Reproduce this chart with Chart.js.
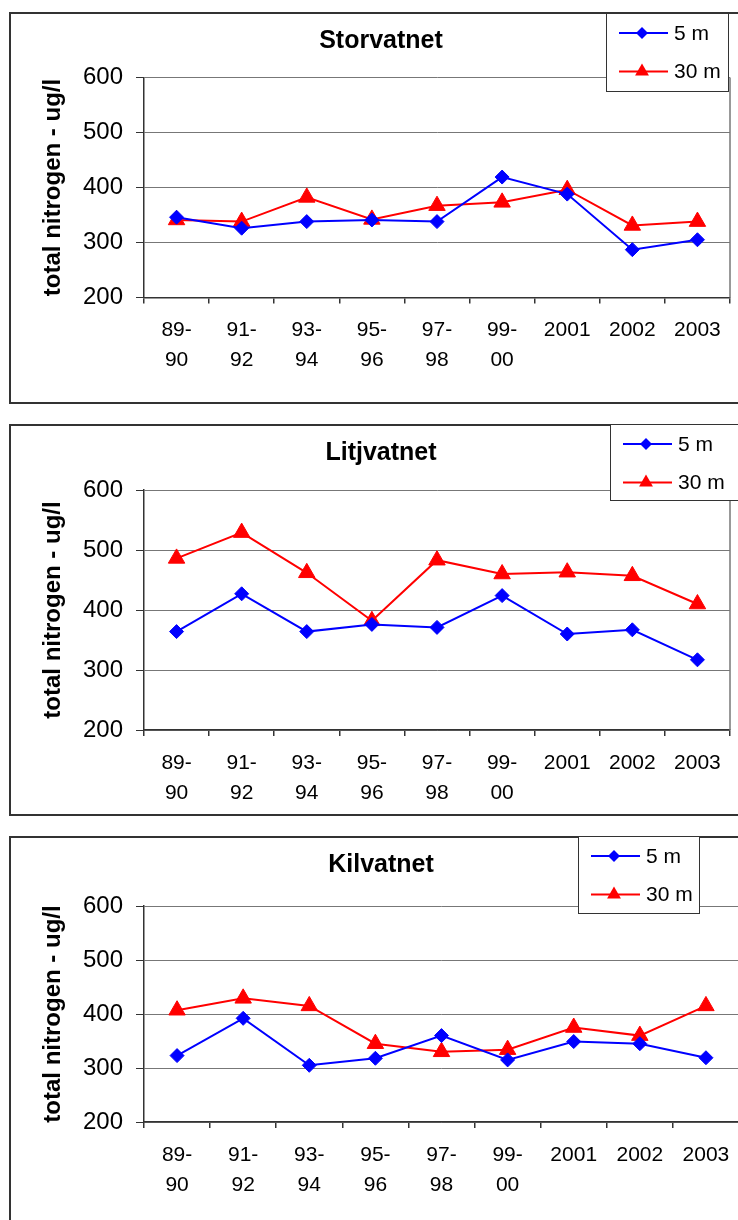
<!DOCTYPE html>
<html><head><meta charset="utf-8">
<script src="https://cdn.jsdelivr.net/npm/chart.js@4.4.0/dist/chart.umd.min.js"></script>
<style>
html,body{margin:0;padding:0;background:#fff;overflow:hidden;width:738px;height:1220px;position:relative;}
.panel{position:absolute;left:9px;width:760px;height:392px;border:2px solid #333;box-sizing:border-box;}
canvas{position:absolute;left:0;}
</style></head><body>
<div class="panel" style="top:12px"></div>
<div class="panel" style="top:424px"></div>
<div class="panel" style="top:836px"></div>
<canvas id="c0" width="760" height="400" style="top:0px"></canvas>
<canvas id="c1" width="760" height="400" style="top:412px"></canvas>
<canvas id="c2" width="760" height="400" style="top:824px"></canvas>
<script>
// ---- data ----
const categories = [['89-','90'],['91-','92'],['93-','94'],['95-','96'],['97-','98'],['99-','00'],'2001','2002','2003'];
const seriesNames = ['5 m', '30 m'];
const lakeNames = ['Storvatnet', 'Litjvatnet', 'Kilvatnet'];
const storvatnet5m  = [346, 326, 338, 341, 338, 419, 388, 287, 305];
const storvatnet30m = [341, 338, 382, 342, 367, 373, 396, 331, 338];
const litjvatnet5m  = [364, 427, 364, 376, 371, 424, 360, 367, 317];
const litjvatnet30m = [486, 529, 462, 382, 483, 460, 463, 457, 410];
const kilvatnet5m   = [323, 392, 305, 318, 360, 315, 349, 345, 319];
const kilvatnet30m  = [407, 429, 415, 345, 330, 334, 375, 360, 415];
const yTicks = [200, 300, 400, 500, 600];
const yTitle = 'total nitrogen - ug/l';

const FONT = '"Liberation Sans", Arial, Helvetica, sans-serif';
Chart.defaults.font.family = FONT;
Chart.defaults.color = '#000';

const W = 760, H = 400;

const deco = {
  id: 'deco',
  afterDraw(chart, args, o) {
    const ctx = chart.ctx;
    const a = chart.chartArea;
    ctx.save();
    // plot area right border
    ctx.strokeStyle = '#777';
    ctx.lineWidth = 1.5;
    ctx.beginPath();
    ctx.moveTo(a.right, a.top);
    ctx.lineTo(a.right, a.bottom);
    ctx.stroke();
    // title
    ctx.fillStyle = '#000';
    ctx.font = 'bold 25px ' + FONT;
    ctx.textAlign = 'center';
    ctx.textBaseline = 'middle';
    ctx.fillText(o.title, o.titleX, o.titleY);
    // legend box
    const L = o.legend;
    ctx.fillStyle = '#fff';
    ctx.fillRect(L.x, L.y, L.w, L.h);
    ctx.strokeStyle = '#333';
    ctx.lineWidth = 1;
    ctx.strokeRect(L.x + 0.5, L.y + 0.5, L.w, L.h);
    chart.data.datasets.forEach((ds, i) => {
      const cy = L.y + 20 + i * 38.5;
      const x0 = L.x + 13, x1 = L.x + 62, mx = L.x + 36;
      ctx.strokeStyle = ds.borderColor;
      ctx.lineWidth = 2;
      ctx.beginPath(); ctx.moveTo(x0, cy); ctx.lineTo(x1, cy); ctx.stroke();
      ctx.fillStyle = ds.backgroundColor;
      ctx.beginPath();
      if (ds.pointStyle === 'rectRot') {
        const r = 6;
        ctx.moveTo(mx, cy - r); ctx.lineTo(mx + r, cy); ctx.lineTo(mx, cy + r); ctx.lineTo(mx - r, cy);
      } else {
        const r = 8;
        ctx.moveTo(mx, cy - r);
        ctx.lineTo(mx + Math.sin(2*Math.PI/3) * r, cy + 0.5 * r);
        ctx.lineTo(mx - Math.sin(2*Math.PI/3) * r, cy + 0.5 * r);
      }
      ctx.closePath(); ctx.fill();
      ctx.fillStyle = '#000';
      ctx.font = '21px ' + FONT;
      ctx.textAlign = 'left';
      ctx.textBaseline = 'middle';
      ctx.fillText(ds.label, L.x + 68, cy + 1);
    });
    ctx.restore();
  }
};

function makeChart(id, title, d5, d30, cfg) {
  return new Chart(document.getElementById(id), {
    type: 'line',
    data: {
      labels: categories,
      datasets: [
        { label: seriesNames[0], data: d5, borderColor: '#0000FF', backgroundColor: '#0000FF',
          pointStyle: 'rectRot', pointRadius: 7, pointHoverRadius: 7, pointBorderWidth: 1, borderWidth: 2, tension: 0 },
        { label: seriesNames[1], data: d30, borderColor: '#FF0000', backgroundColor: '#FF0000',
          pointStyle: 'triangle', pointRadius: 9.5, pointHoverRadius: 9.5, pointBorderWidth: 1, borderWidth: 2, tension: 0 }
      ]
    },
    options: {
      responsive: false, animation: false, devicePixelRatio: 1,
      events: [],
      layout: { padding: { left: 0, top: cfg.top, right: W - cfg.right, bottom: 0 } },
      plugins: {
        legend: { display: false }, title: { display: false }, tooltip: { enabled: false },
        deco: { title: title, titleX: 381, titleY: 41, legend: cfg.legend }
      },
      scales: {
        x: {
          offset: true,
          grid: { offset: true, drawOnChartArea: false, drawTicks: true, tickLength: 6, color: '#333', lineWidth: 1.5 },
          border: { color: '#333', width: 1.5 },
          ticks: { color: '#000', font: { size: 21, lineHeight: 1.43 }, padding: 12, maxRotation: 0, minRotation: 0, autoSkip: false },
          afterFit(s) { s.height = H - cfg.bottom; }
        },
        y: {
          min: yTicks[0], max: yTicks[yTicks.length - 1],
          afterBuildTicks(s) { s.ticks = yTicks.map(v => ({ value: v })); },
          ticks: { color: '#000', font: { size: 24 }, padding: 13 },
          grid: { color: '#777', lineWidth: 1, tickLength: 8, tickColor: '#333' },
          border: { color: '#333', width: 1.5 },
          title: { display: true, text: yTitle, color: '#000', font: { size: 24, weight: 'bold' }, padding: { top: 39, bottom: 0 } },
          afterFit(s) { s.width = 144; }
        }
      }
    },
    plugins: [deco]
  });
}

makeChart('c0', lakeNames[0], storvatnet5m, storvatnet30m,
  { top: 77.5, bottom: 297.5, right: 730, legend: { x: 606, y: 13, w: 122, h: 78 } });
makeChart('c1', lakeNames[1], litjvatnet5m, litjvatnet30m,
  { top: 78, bottom: 318, right: 730, legend: { x: 610, y: 12, w: 135, h: 76 } });
makeChart('c2', lakeNames[2], kilvatnet5m, kilvatnet30m,
  { top: 82, bottom: 298, right: 739, legend: { x: 578, y: 12, w: 121, h: 77 } });
</script>
</body></html>
